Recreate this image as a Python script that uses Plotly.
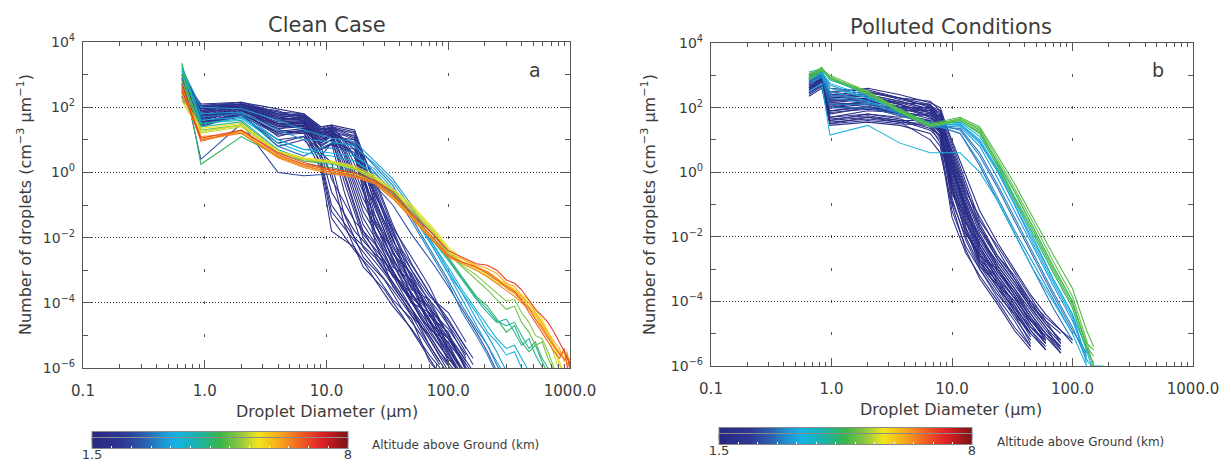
import plotly.graph_objects as go
from plotly.colors import sample_colorscale

W, H = 1223, 470

# ---------------- data (profile values given as log10 of dN/dD) ----------------
ALT_MIN, ALT_MAX = 1.5, 8.0

# Clean case: low-altitude (navy) profiles, sampled on two diameter grids
clean_low_diam = [0.65, 0.93, 2.0, 4.0, 6.5, 9.0, 11, 17, 25, 35, 50, 70, 100, 140]
clean_low_alt = [1.6, 1.7, 1.8, 1.65, 1.9, 1.75, 2.0, 1.85, 1.55, 2.1, 1.7, 1.9, 1.6, 1.8, 2.0, 1.65,
                 1.95, 1.75, 2.15, 1.85, 1.7, 2.05]
clean_low_log10 = [
    [2.6, 2.0, 2.15, 1.95, 1.8, 1.4, 1.45, 1.3, -0.4, -1.9, -3.0, -4.0, -5.0, -6.0],
    [2.9, 1.9, 2.1, 1.85, 1.7, 1.3, 1.35, 1.2, -0.8, -2.2, -3.4, -4.2, -5.3, -6.2],
    [2.4, 1.8, 2.05, 1.7, 1.75, 1.2, 1.4, 1.1, -1.0, -2.5, -3.1, -4.4, -4.9, -6.1],
    [3.0, 2.05, 2.0, 1.6, 1.6, 1.1, 1.3, 1.0, -0.6, -2.0, -3.6, -3.9, -5.0, -5.8],
    [2.2, 1.7, 1.95, 1.5, 1.5, 1.0, 1.2, 0.9, -1.3, -2.7, -3.5, -4.6, -5.6, -6.5],
    [2.7, 1.6, 1.9, 1.4, 1.4, 0.9, 1.1, 1.0, -0.2, -1.6, -2.8, -3.7, -4.5, -5.4],
    [2.5, 1.5, 1.85, 1.3, 1.6, 1.2, 1.25, 0.8, -1.5, -2.9, -3.3, -4.8, -5.2, -6.4],
    [2.8, 1.85, 2.1, 1.75, 1.8, 1.35, 1.3, 0.7, -1.8, -3.1, -4.0, -4.3, -5.5, -6.6],
    [2.3, 1.4, 1.8, 1.2, 1.3, 0.8, 1.0, 0.6, -1.1, -2.4, -3.8, -4.1, -5.4, -6.3],
    [2.65, 1.95, 2.0, 1.9, 1.55, 1.0, 1.15, 1.15, -0.3, -1.7, -2.6, -3.5, -4.7, -5.7],
    [2.9, 2.1, 2.15, 1.8, 1.7, 0.4, -1.0, -2.0, -2.6, -3.4, -4.2, -5.3, -6.2],
    [2.5, 1.6, 1.9, 1.5, 1.4, 0.2, -1.4, -2.4, -3.1, -3.9, -4.5, -5.8, -6.5],
    [2.7, 1.8, 2.05, 1.6, 1.5, 0.6, -0.6, -1.8, -2.5, -3.0, -4.0, -4.9, -5.7, -6.4],
    [2.3, 1.5, 1.7, 1.0, 1.1, 0.1, -1.8, -2.3, -3.3, -4.1, -4.8, -5.6, -6.3],
    [3.1, 2.0, 2.1, 1.7, 1.6, 0.8, -0.2, -1.5, -2.2, -3.2, -3.7, -4.6, -5.1, -6.0],
    [2.6, 1.7, 1.95, 1.3, 1.2, 0.3, -1.2, -2.1, -2.9, -3.6, -4.4, -5.0, -5.9],
    [2.45, 1.65, 1.9, 1.1, 1.3, 0.9, 1.2, 0.5, -1.9, -2.8, -3.9, -4.7, -5.6],
    [2.75, 1.75, 2.0, 1.45, 1.45, 1.15, 1.2, 0.85, -0.9, -2.3, -3.2, -4.4, -5.1, -5.9],
    [2.55, 1.55, 1.8, 0.8, 1.0, 0.5, 0.9, 0.7, -0.5, -2.1, -3.0, -3.8, -4.3, -5.2],
    [2.85, 1.9, 2.05, 1.65, 1.65, 1.25, 1.35, 1.05, -1.6, -2.6, -3.7, -4.5, -5.8],
    [2.35, 1.45, 1.75, 0.9, 1.1, 0.7, 0.85, 0.6, -2.1, -3.5, -4.3, -5.1, -6.1],
    [2.95, 2.05, 2.1, 1.8, 1.75, 1.3, 1.4, 1.25, -0.7, -1.8, -3.3, -4.2, -4.8, -5.6],
]
clean_mid_diam = [0.65, 0.93, 2.0, 4.0, 6.5, 9.0, 11, 14, 20, 30, 42, 60, 85, 120, 160]
clean_mid_alt = [1.6, 1.8, 1.7, 1.95, 1.55, 2.05, 1.75, 1.85, 1.65, 2.2, 1.7, 1.9, 1.6, 1.8]
clean_mid_log10 = [
    [2.55, 1.75, 1.95, 1.55, 1.55, 1.1, 1.25, 0.2, -1.6, -2.6, -3.5, -4.4, -5.3, -6.1],
    [2.85, 1.95, 2.1, 1.75, 1.65, 1.2, 1.3, 0.5, -1.2, -2.3, -3.3, -4.2, -5.0, -5.8, -6.5],
    [2.4, 1.6, 1.85, 1.35, 1.4, 0.95, 1.1, -0.3, -2.0, -3.0, -3.8, -4.6, -5.5, -6.2],
    [2.7, 1.85, 2.0, 1.6, 1.7, 1.25, 1.35, 0.8, -0.6, -1.9, -3.0, -3.7, -4.6, -5.4, -6.1],
    [2.3, 1.5, 1.8, 1.2, 1.25, 0.7, 0.9, -0.6, -2.3, -3.1, -3.9, -4.9, -5.8],
    [3.0, 2.0, 2.1, 1.8, 1.75, 1.35, 1.45, 0.9, -0.3, -1.5, -2.7, -3.6, -4.3, -5.1, -5.9],
    [2.6, 1.7, 1.9, 1.45, 1.5, 1.05, 1.2, 0.0, -1.8, -2.9, -3.4, -4.5, -5.1, -6.0],
    [2.8, 1.9, 2.05, 1.7, 1.6, 1.15, 1.3, 0.6, -1.0, -2.1, -3.2, -3.9, -4.9, -5.6, -6.4],
    [2.5, 1.65, 1.9, 1.4, 1.45, 1.0, 1.15, 0.35, -1.4, -2.5, -3.6, -4.1, -5.0, -5.9],
    [2.9, 2.05, 2.15, 1.85, 1.8, 1.3, 1.4, 1.0, 0.0, -1.2, -2.4, -3.3, -4.2, -5.0, -5.7],
    [2.45, 1.55, 1.8, 1.25, 1.35, 0.85, 1.0, -0.1, -1.9, -2.7, -3.7, -4.7, -5.6, -6.3],
    [2.75, 1.8, 2.0, 1.65, 1.6, 1.2, 1.3, 0.7, -0.8, -2.0, -2.9, -4.0, -4.7, -5.5, -6.2],
    [2.65, 1.7, 1.95, 1.5, 1.55, 0.6, 0.3, -1.3, -2.6, -3.3, -4.2, -5.0, -5.9],
    [2.35, 1.5, 1.75, 1.15, 1.2, 0.5, 0.0, -1.6, -2.9, -3.6, -4.4, -5.3, -6.2],
]

# Clean case: higher-altitude (coloured) profiles
clean_high_diam = [0.65, 0.93, 2.0, 4.0, 6.5, 11, 17, 25, 35, 50, 75, 100, 130, 170, 210, 250, 300,
                   350, 400, 460, 520, 590, 660, 740, 820, 900, 950, 1000]
clean_high_alt = [2.6, 3.0, 3.1, 3.3, 3.4, 3.6, 3.8, 4.2, 4.4, 4.6, 5.0, 5.2, 5.5, 5.6, 5.8, 6.0,
                  6.2, 6.5, 6.6, 6.8, 7.1]
clean_high_log10 = [
    [3.0, 0.4, 1.5, 0.0, -0.1, -0.05, -0.05, -0.4, -1.0, -1.9, -2.8, -3.5, -4.2, -4.9, -5.5, -6.1],
    [2.9, 1.4, 1.75, 0.8, 0.5, 0.9, 0.85, 0.2, -0.4, -1.4, -2.5, -3.3, -4.1, -4.8, -5.3, -5.9, -6.4],
    [3.0, 1.7, 1.8, 1.0, 0.7, 0.75, 0.6, 0.0, -0.6, -1.5, -2.6, -3.4, -4.3, -5.0, -5.6, -6.2],
    [3.2, 2.0, 1.95, 1.6, 1.3, 1.05, 0.95, 0.35, -0.2, -1.0, -2.2, -3.0, -3.7, -4.5, -5.0, -5.5, -6.1],
    [3.15, 1.8, 1.85, 1.3, 1.0, 0.95, 0.8, 0.25, -0.3, -1.1, -2.3, -3.1, -3.9, -4.7, -5.3, -5.8, -6.3],
    [3.1, 1.6, 1.7, 1.0, 0.7, 0.6, 0.5, 0.1, -0.5, -1.3, -2.3, -3.1, -3.7, -4.3, -4.9, -5.2, -5.6,
     -5.5, -6.0, -6.3],
    [3.2, 1.5, 1.65, 0.9, 0.6, 0.5, 0.35, -0.05, -0.55, -1.3, -2.2, -2.9, -3.6, -4.2, -4.7, -5.1,
     -5.4, -5.3, -5.7, -6.1],
    [3.3, 1.5, 1.6, 0.7, 0.4, 0.3, 0.15, -0.2, -0.6, -1.3, -2.1, -2.7, -3.3, -3.9, -4.3, -4.6, -4.5,
     -4.9, -5.3, -5.1, -5.6, -6.0, -6.3],
    [3.25, 1.4, 1.55, 0.65, 0.35, 0.25, 0.1, -0.25, -0.65, -1.3, -2.05, -2.65, -3.25, -3.85, -4.2,
     -4.55, -4.7, -4.6, -5.0, -5.4, -5.2, -5.7, -6.0, -6.4],
    [3.35, 0.25, 1.1, 0.5, 0.25, 0.15, 0.0, -0.3, -0.7, -1.4, -2.0, -2.6, -3.2, -3.8, -4.1, -4.5,
     -4.9, -4.7, -5.2, -5.5, -5.3, -5.8, -6.2],
    [3.0, 1.3, 1.45, 0.6, 0.35, 0.3, 0.1, -0.25, -0.7, -1.2, -1.9, -2.5, -2.9, -3.3, -3.6, -3.9,
     -4.2, -4.1, -4.6, -4.9, -5.3, -5.2, -5.7, -6.1],
    [2.8, 1.25, 1.45, 0.6, 0.4, 0.3, 0.12, -0.2, -0.6, -1.15, -1.85, -2.45, -2.85, -3.15, -3.45,
     -3.7, -3.95, -3.9, -4.3, -4.6, -5.0, -5.1, -5.5, -6.0],
    [2.2, 1.2, 1.4, 0.6, 0.4, 0.3, 0.1, -0.2, -0.6, -1.1, -1.8, -2.4, -2.8, -3.0, -3.2, -3.4, -3.5,
     -3.7, -3.8, -4.1, -4.4, -4.7, -5.0, -5.6, -6.1],
    [2.3, 1.25, 1.45, 0.62, 0.42, 0.32, 0.15, -0.15, -0.55, -1.05, -1.75, -2.35, -2.75, -2.95, -3.15,
     -3.35, -3.5, -3.65, -3.8, -4.0, -4.3, -4.6, -5.0, -5.4, -5.9, -6.3],
    [2.4, 1.35, 1.5, 0.65, 0.45, 0.35, 0.2, -0.1, -0.5, -1.0, -1.7, -2.3, -2.65, -2.9, -3.1, -3.3,
     -3.4, -3.6, -3.75, -3.9, -4.2, -4.5, -4.9, -5.3, -5.8, -6.2],
    [2.45, 1.05, 1.25, 0.5, 0.25, 0.05, -0.05, -0.3, -0.75, -1.35, -2.05, -2.55, -2.75, -2.95, -3.05,
     -3.25, -3.45, -3.6, -3.85, -4.1, -4.35, -4.7, -5.0, -5.3, -5.5, -5.7, -5.6, -6.0],
    [2.5, 1.0, 1.25, 0.5, 0.2, 0.0, -0.1, -0.3, -0.75, -1.35, -2.0, -2.5, -2.65, -2.85, -2.95, -3.1,
     -3.4, -3.5, -3.8, -4.0, -4.3, -4.6, -4.9, -5.2, -5.4, -5.8, -5.5, -6.1],
    [2.6, 1.1, 1.2, 0.45, 0.15, -0.05, -0.15, -0.35, -0.8, -1.4, -2.1, -2.6, -2.8, -3.0, -3.2, -3.4,
     -3.6, -3.8, -4.0, -4.2, -4.5, -4.8, -5.1, -5.3, -5.6, -5.5, -5.9, -5.7],
    [2.55, 1.0, 1.2, 0.48, 0.2, 0.0, -0.12, -0.35, -0.8, -1.4, -2.1, -2.6, -2.75, -2.9, -3.05, -3.25,
     -3.55, -3.7, -3.95, -4.15, -4.5, -4.75, -5.05, -5.35, -5.55, -5.75, -5.6, -6.0],
    [2.7, 0.95, 1.3, 0.55, 0.25, 0.05, -0.1, -0.3, -0.7, -1.3, -2.0, -2.55, -2.75, -2.9, -3.1, -3.3,
     -3.5, -3.65, -3.9, -4.3, -4.6, -4.9, -5.2, -5.5, -5.7, -5.4, -6.0, -5.8],
    [2.5, 1.05, 1.3, 0.6, 0.3, 0.1, 0.0, -0.25, -0.6, -1.25, -1.9, -2.4, -2.6, -2.8, -2.85, -3.0,
     -3.3, -3.4, -3.6, -3.9, -4.2, -4.4, -4.6, -4.9, -5.2, -5.5, -5.7, -5.9],
]

# Polluted conditions: low-altitude (navy) profiles
polluted_low_diam = [0.65, 0.83, 0.97, 2.0, 3.7, 6.6, 8.0, 10, 13, 17, 24, 33, 45, 60, 80, 100]
polluted_low_alt = [1.6, 1.7, 1.8, 1.65, 1.9, 1.75, 2.0, 1.85, 1.55, 2.1, 1.7, 1.9, 1.6, 1.8, 2.0,
                    1.65, 1.95, 1.75, 2.15, 1.85, 1.7, 2.05, 1.6, 1.8, 1.7, 1.95, 1.65, 2.0, 1.75,
                    1.85, 1.6, 1.9]
polluted_low_log10 = [
    [2.9, 3.05, 2.4, 2.5, 2.3, 2.2, 1.9, 0.5, -0.8, -1.9, -2.9, -3.6, -4.3, -4.9, -5.4],
    [2.7, 2.9, 2.2, 2.3, 2.15, 2.1, 1.6, 0.2, -1.1, -2.4, -3.2, -3.9, -4.6, -5.2],
    [3.0, 3.1, 2.0, 2.2, 2.0, 2.0, 1.4, -0.3, -1.5, -2.8, -3.4, -4.2, -4.8, -5.3],
    [2.6, 2.9, 1.8, 2.0, 1.9, 1.9, 1.7, 0.7, -0.5, -1.6, -2.6, -3.3, -4.0, -4.7, -5.2],
    [2.5, 2.8, 1.6, 1.8, 1.7, 1.8, 1.2, -0.6, -1.8, -2.8, -3.6, -4.4, -5.0],
    [2.8, 3.0, 2.3, 2.35, 2.1, 1.7, 1.5, 0.0, -1.3, -2.6, -3.0, -3.8, -4.5, -5.1, -5.6],
    [2.45, 2.7, 1.55, 1.65, 1.55, 1.5, 1.1, -0.9, -2.0, -2.9, -3.7, -4.5, -5.2],
    [2.95, 3.1, 2.45, 2.6, 2.4, 2.15, 2.0, 0.9, -0.3, -1.5, -2.3, -3.1, -3.9, -4.6, -5.3],
    [2.75, 2.9, 1.9, 2.05, 1.8, 1.6, 1.3, -0.2, -1.6, -2.2, -3.1, -3.8, -4.7, -5.3],
    [2.55, 2.8, 2.1, 2.15, 1.95, 1.4, 0.9, -1.2, -2.3, -3.0, -3.9, -4.6, -5.4],
    [3.05, 3.15, 2.35, 2.4, 2.2, 1.95, 1.8, 0.3, -1.0, -2.0, -2.8, -3.5, -4.2, -4.8, -5.5],
    [2.65, 2.85, 1.7, 1.9, 1.85, 2.05, 1.55, -0.1, -1.4, -2.7, -3.3, -4.1, -4.9, -5.4],
    [2.85, 3.0, 2.25, 2.3, 2.1, 1.85, 1.75, 0.6, -0.7, -1.8, -2.7, -3.4, -4.1, -4.6, -5.0],
    [2.45, 2.7, 1.65, 1.75, 1.6, 1.3, 1.0, -0.5, -1.9, -2.5, -3.5, -4.3, -5.1],
    [2.9, 3.05, 2.05, 2.2, 2.05, 1.9, 1.6, 0.4, -0.9, -2.1, -3.0, -3.7, -4.4, -5.0, -5.4],
    [2.7, 2.95, 2.15, 2.1, 1.9, 1.65, 1.45, -0.4, -1.7, -2.9, -3.5, -4.0, -4.7, -5.3],
    [2.8, 3.0, 1.85, 1.95, 1.85, 1.75, 1.65, 0.1, -1.2, -2.3, -3.4, -4.0, -4.8, -5.2],
    [2.6, 2.85, 2.0, 2.0, 1.8, 1.55, 1.2, -0.7, -1.3, -2.0, -2.9, -3.6, -4.4, -5.0, -5.6],
    [3.0, 3.1, 2.3, 2.45, 2.3, 2.0, 1.85, 0.8, -0.4, -1.7, -2.6, -3.2, -4.0, -4.5, -4.9, -5.3],
    [2.5, 2.75, 1.5, 1.6, 1.5, 1.45, 1.05, -0.8, -2.1, -3.0, -3.8, -4.4, -5.3],
    [2.35, 2.6, 1.5, 1.7, 1.55, 1.0, 0.6, -1.0, -2.4, -3.3, -4.1, -4.9, -5.5],
    [2.75, 2.95, 2.2, 2.25, 2.0, 1.7, 1.35, 0.2, -1.2, -2.5, -3.3, -3.9, -4.6, -5.1],
    [2.65, 2.85, 2.3, 2.35, 2.15, 1.9, 1.3, -0.5, -1.9, -2.6, -3.5, -4.3, -5.0, -5.5],
    [2.9, 3.0, 1.7, 1.8, 1.65, 1.35, 1.15, 0.0, -1.0, -2.2, -3.1, -3.7, -4.5, -5.2],
    [2.55, 2.8, 2.5, 2.55, 2.3, 2.1, 1.75, 0.4, -0.7, -1.7, -2.7, -3.4, -4.2, -4.8, -5.3],
    [2.75, 2.95, 1.45, 1.55, 1.45, 1.2, 0.8, -1.4, -2.5, -3.2, -4.0, -4.8, -5.4],
    [3.0, 3.1, 2.6, 2.5, 2.25, 2.05, 1.9, 1.0, -0.1, -1.2, -2.2, -3.0, -3.8, -4.4, -4.9, -5.2],
    [2.4, 2.65, 1.9, 2.0, 1.75, 1.5, 1.25, -0.2, -1.5, -2.4, -3.3, -4.1, -4.9, -5.5],
    [2.85, 3.0, 2.0, 2.1, 1.95, 1.8, 1.5, 0.3, -1.1, -2.3, -3.2, -3.9, -4.6, -5.1],
    [2.6, 2.8, 2.4, 2.4, 2.2, 1.95, 1.7, 0.6, -0.6, -1.4, -2.4, -3.3, -4.1, -4.7, -5.2],
    [2.7, 2.9, 1.6, 1.7, 1.6, 1.6, 1.3, -0.4, -1.7, -2.7, -3.6, -4.2, -5.0],
    [2.95, 3.05, 2.15, 2.25, 2.0, 1.85, 1.55, 0.1, -1.3, -2.0, -3.0, -3.7, -4.5, -5.0, -5.5],
]

# Polluted conditions: higher-altitude (blue / cyan / green) profiles
polluted_high_diam = [0.65, 0.83, 0.97, 2.0, 3.7, 6.6, 11.7, 17, 24, 33, 47, 69, 100, 131, 150, 180]
polluted_high_alt = [2.9, 3.0, 3.1, 3.2, 3.3, 3.4, 3.7, 3.5, 3.6, 3.8, 4.0, 4.8, 4.9, 4.85, 4.95, 5.0]
polluted_high_log10 = [
    [2.7, 2.95, 2.0, 2.0, 1.75, 1.5, 1.2, 0.2, -0.9, -1.9, -3.0, -4.2, -5.2],
    [2.8, 3.0, 2.1, 2.1, 1.8, 1.55, 1.3, 0.5, -0.5, -1.5, -2.6, -3.8, -4.9, -5.6],
    [2.85, 3.05, 2.4, 2.2, 1.8, 1.4, 1.35, 0.6, -0.4, -1.4, -2.5, -3.7, -4.8, -5.8],
    [2.9, 3.1, 2.3, 2.15, 1.85, 1.5, 1.2, 0.3, -0.8, -1.8, -2.8, -3.9, -5.0],
    [2.75, 2.95, 2.5, 2.2, 1.85, 1.45, 1.4, 0.8, -0.2, -1.2, -2.3, -3.5, -4.6, -5.7],
    [2.95, 3.1, 2.7, 2.3, 1.9, 1.5, 1.45, 0.9, 0.0, -1.0, -2.1, -3.3, -4.4, -5.5, -6.0],
    [2.5, 2.75, 1.15, 1.45, 0.9, 0.6, 0.6, 0.0, -0.9, -1.9, -3.0, -4.0, -5.0, -6.0],
    [2.9, 3.1, 2.75, 2.35, 1.9, 1.45, 1.5, 0.95, 0.05, -1.0, -2.2, -3.4, -4.5, -5.9],
    [3.0, 3.15, 2.9, 2.4, 1.95, 1.45, 1.5, 1.0, 0.1, -0.9, -2.0, -3.3, -4.4, -5.8, -6.1],
    [2.85, 3.05, 2.6, 2.3, 1.9, 1.5, 1.55, 1.1, 0.2, -0.8, -1.9, -3.1, -4.2, -5.5, -6.2],
    [3.1, 3.2, 2.85, 2.45, 1.9, 1.45, 1.6, 1.2, 0.3, -0.6, -1.7, -2.9, -4.0, -5.4, -6.0, -6.0],
    [2.9, 3.2, 2.95, 2.45, 1.9, 1.45, 1.65, 1.3, 0.25, -0.75, -1.8, -3.0, -4.1, -5.3, -5.5],
    [2.95, 3.2, 2.9, 2.45, 1.9, 1.45, 1.6, 1.25, 0.3, -0.6, -1.7, -2.9, -4.0, -5.4, -5.7],
    [3.0, 3.25, 2.9, 2.5, 1.95, 1.5, 1.7, 1.4, 0.5, -0.35, -1.4, -2.55, -3.6, -4.9, -5.4],
    [2.85, 3.15, 2.95, 2.4, 1.85, 1.4, 1.6, 1.2, 0.15, -0.85, -1.9, -3.1, -4.2, -5.5, -5.9],
    [3.05, 3.2, 3.0, 2.5, 1.9, 1.45, 1.65, 1.35, 0.4, -0.5, -1.55, -2.75, -3.85, -5.2, -6.1],
]

x_tick_vals = [0.1, 1, 10, 100, 1000]
x_tick_text = ["0.1", "1.0", "10.0", "100.0", "1000.0"]
y_tick_vals = [1e-6, 1e-4, 1e-2, 1, 1e2, 1e4]
y_tick_text = ["10<sup>−6</sup>", "10<sup>−4</sup>", "10<sup>−2</sup>", "10<sup>0</sup>",
               "10<sup>2</sup>", "10<sup>4</sup>"]
y_minor_vals = [1e-5, 1e-3, 1e-1, 1e1, 1e3]
x_minor_vals = [m * 10.0 ** e for e in range(-1, 3) for m in range(2, 10)]
cbar_label_vals = [1.5, 8]
cbar_label_text = ["1.5", "8"]
cbar_inner_ticks = [2.0, 2.5, 3.0, 3.5, 4.0, 4.5, 5.0, 5.5, 6.0, 6.5, 7.0, 7.5]

colorscale = [
    [0.00, "#28287f"], [0.12, "#2e3796"], [0.20, "#2c5bab"], [0.28, "#1e98d5"],
    [0.33, "#13b3e6"], [0.42, "#1cb2a4"], [0.50, "#38b54a"], [0.58, "#93c83e"],
    [0.65, "#f2e51c"], [0.74, "#f7a21b"], [0.82, "#f05a24"], [0.90, "#de1f26"], [1.00, "#7a1214"],
]

FONT = "DejaVu Sans"
TXT = "#3c3c3c"
AX = "#555555"

fig = go.Figure()


def add_profiles(diam, profiles, alts, xa, ya):
    cols = sample_colorscale(colorscale, [(a - ALT_MIN) / (ALT_MAX - ALT_MIN) for a in alts])
    for vals, c in zip(profiles, cols):
        fig.add_trace(go.Scatter(
            x=diam[:len(vals)], y=[10 ** v for v in vals], mode="lines",
            line=dict(color=c, width=1.05), xaxis=xa, yaxis=ya,
            showlegend=False, hoverinfo="skip"))


add_profiles(clean_low_diam, clean_low_log10, clean_low_alt, "x", "y")
add_profiles(clean_mid_diam, clean_mid_log10, clean_mid_alt, "x", "y")
add_profiles(clean_high_diam, clean_high_log10, clean_high_alt, "x", "y")
add_profiles(polluted_low_diam, polluted_low_log10, polluted_low_alt, "x2", "y2")
add_profiles(polluted_high_diam, polluted_high_log10, polluted_high_alt, "x2", "y2")

# geometry (pixels)
L1, R1, T1, B1 = 83, 570, 42, 368
L2, R2, T2, B2 = 711, 1193, 43, 366


def cbar(xa, ya, cx, cy, length, with_labels):
    if with_labels:
        tick_kw = dict(tickvals=cbar_label_vals, ticktext=cbar_label_text, ticks="",
                       showticklabels=True, tickfont=dict(family=FONT, size=13, color=TXT))
    else:
        tick_kw = dict(tickvals=cbar_inner_ticks, ticks="inside", ticklen=3, tickcolor="white",
                       tickwidth=1, showticklabels=False)
    fig.add_trace(go.Scatter(
        x=[1], y=[1], xaxis=xa, yaxis=ya, mode="markers", showlegend=False, hoverinfo="skip",
        marker=dict(size=1, opacity=0, color=[ALT_MIN], cmin=ALT_MIN, cmax=ALT_MAX,
                    colorscale=colorscale, showscale=True,
                    colorbar=dict(orientation="h", x=cx / W, xanchor="center", y=1 - cy / H,
                                  yanchor="middle", len=length / W, lenmode="fraction",
                                  thickness=11, thicknessmode="pixels", xpad=0, ypad=0,
                                  outlinewidth=1, outlinecolor="#8a8a8a", **tick_kw))))


for lab in (True, False):
    cbar("x", "y", 220, 444.5, 256, lab)
    cbar("x2", "y2", 845.5, 440.5, 253, lab)


def xaxis(dom, dec_px, anchor):
    half = 1.5
    dash = f"{half}px,{dec_px - 2 * half:.2f}px,{half}px,0px"
    return dict(type="log", range=[-1, 3], domain=dom, anchor=anchor,
                tickvals=x_tick_vals, ticktext=x_tick_text,
                ticks="inside", ticklen=8, tickwidth=1, tickcolor=AX,
                minor=dict(tickvals=x_minor_vals, ticks="inside", ticklen=4, tickcolor=AX,
                           showgrid=False),
                showline=True, linecolor=AX, linewidth=1.2, mirror="allticks",
                showgrid=True, gridcolor="#555555", gridwidth=1, griddash=dash,
                zeroline=False, ticklabelstandoff=9, ticklabeloverflow="allow",
                tickfont=dict(family=FONT, size=15, color=TXT))


def yaxis(dom, anchor):
    return dict(type="log", range=[-6, 4], domain=dom, anchor=anchor, tickvals=y_tick_vals,
                ticktext=y_tick_text, ticks="inside", ticklen=10, tickwidth=1, tickcolor=AX,
                minor=dict(tickvals=y_minor_vals, ticks="inside", ticklen=5, tickcolor=AX,
                           showgrid=False),
                showline=True, linecolor=AX, linewidth=1.2, mirror="allticks",
                showgrid=True, gridcolor="#333333", gridwidth=1, griddash="1px,2px",
                zeroline=False, ticklabelstandoff=4, ticklabeloverflow="allow",
                tickfont=dict(family=FONT, size=14, color=TXT))


fig.update_layout(
    width=W, height=H, paper_bgcolor="white", plot_bgcolor="white",
    margin=dict(l=0, r=0, t=0, b=0, autoexpand=False),
    xaxis=xaxis([L1 / W, R1 / W], (B1 - T1) / 10, "y"),
    yaxis=yaxis([1 - B1 / H, 1 - T1 / H], "x"),
    xaxis2=xaxis([L2 / W, R2 / W], (B2 - T2) / 10, "y2"),
    yaxis2=yaxis([1 - B2 / H, 1 - T2 / H], "x2"),
)


def ann(text, x, y, size=16, angle=0, xanchor="center"):
    fig.add_annotation(text=text, x=x / W, y=1 - y / H, xref="paper", yref="paper",
                       showarrow=False, textangle=angle, xanchor=xanchor, yanchor="middle",
                       font=dict(family=FONT, size=size, color=TXT))


ann("Clean Case", 327, 25, 21)
ann("Polluted Conditions", 951, 27, 21)
ann("Droplet Diameter (μm)", 327, 411)
ann("Droplet Diameter (μm)", 951, 409)
ann("Number of droplets (cm<sup>−3</sup> μm<sup>−1</sup>)", 24, 205, angle=-90)
ann("Number of droplets (cm<sup>−3</sup> μm<sup>−1</sup>)", 648, 205, angle=-90)
ann("a", 535, 70, 19)
ann("b", 1158, 70, 19)
ann("Altitude above Ground (km)", 370, 445, 12, xanchor="left")
ann("Altitude above Ground (km)", 995, 442, 12, xanchor="left")

fig.write_html("out.html", config={"displayModeBar": False},
               post_script="document.body.style.margin='0';document.body.style.overflow='hidden';")
